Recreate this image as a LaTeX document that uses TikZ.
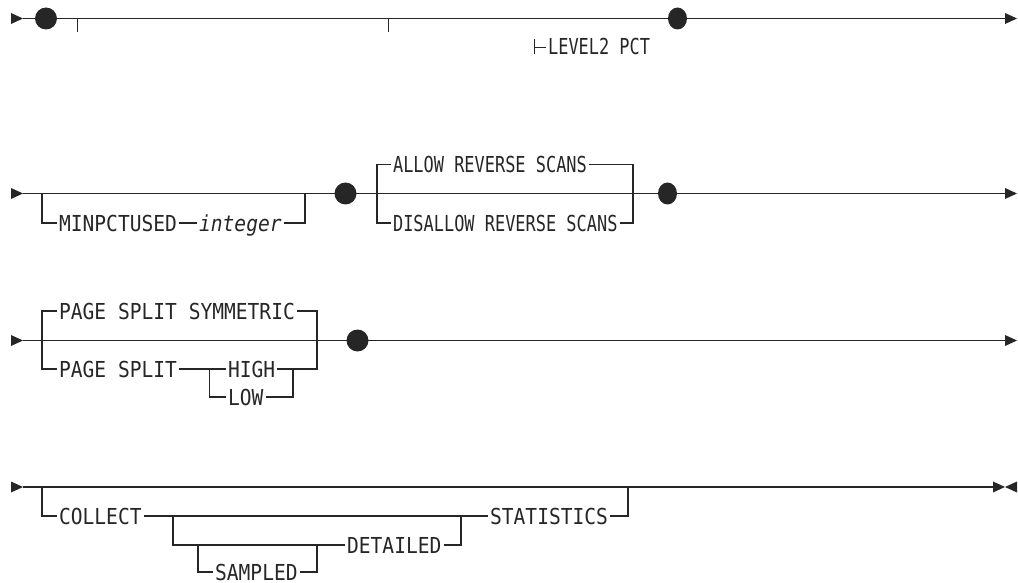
\documentclass[tikz,border=0pt]{standalone}
\usepackage{fontspec}
\usepackage{tikz}
\usetikzlibrary{shapes.geometric}
\newfontfamily\rrwide[FakeStretch=0.89]{DejaVu Sans Mono}
\newfontfamily\rrnarrow[FakeStretch=0.77]{DejaVu Sans Mono}
\colorlet{rrink}{black!85}
\tikzset{
  kw/.style={anchor=west, inner xsep=1.5pt, inner ysep=0pt, text height=16pt, text depth=0pt,
    text=rrink, font=\rrwide\fontsize{22}{26}\selectfont},
  kwn/.style={kw, font=\rrnarrow\fontsize{22}{26}\selectfont},
  dot/.style={ellipse, fill=rrink, inner sep=0pt, minimum width=22pt, minimum height=22pt},
  headtri/.style={fill=rrink, draw=none},
}
\begin{document}
\begin{tikzpicture}[x=1pt, y=-1pt, line width=1.2pt, draw=rrink]
		\useasboundingbox (0,0) rectangle (1018,583);
		% row 1
		\coordinate (r1s) at (23,18.5);
		\coordinate (r1e) at (1005,18.5);
		\coordinate (r1ta) at (77.5,18.5);
		\coordinate (r1tb) at (388.5,18.5);
		\draw (r1s) -- (r1e);
		\fill[headtri] (r1s) -- ++(-12,-5.5) -- ++(0,11) -- cycle;
		\fill[headtri] (r1e) -- ++(0,-5.5) -- ++(12,5.5) -- ++(-12,5.5) -- cycle;
		\draw (r1ta) -- ++(0,14);
		\draw (r1tb) -- ++(0,14);
		\node[kwn] (level) at (546,47) {LEVEL2 PCT};
		\draw[line width=0.9pt] (level.west) -- ++(-12,0) ++(0,-7.5) -- ++(0,15);
		\node[dot] (r1d1) at (46,18.5) {};
		\node[dot, minimum width=19pt] (r1d2) at (677.5,18.5) {};
		% row 2
		\coordinate (r2s) at (23,193.5);
		\coordinate (r2e) at (1005,193.5);
		\coordinate (r2a) at (42,193.5);
		\coordinate (r2b) at (305,193.5);
		\coordinate (r2c) at (377,193.5);
		\coordinate (r2d) at (633,193.5);
		\draw (r2s) -- (r2e);
		\fill[headtri] (r2s) -- ++(-12,-5.5) -- ++(0,11) -- cycle;
		\fill[headtri] (r2e) -- ++(0,-5.5) -- ++(12,5.5) -- ++(-12,5.5) -- cycle;
		\node[kw] (minpct) at (57,223) {MINPCTUSED};
		\node[kw, font=\rrwide\itshape\fontsize{22}{26}\selectfont] (intval) at (197,223) {integer};
		\draw (r2a) |- (minpct.west);
		\draw (minpct) -- (intval);
		\draw (intval.east) -| (r2b);
		\node[kwn] (allow) at (391,164.5) {ALLOW REVERSE SCANS};
		\node[kwn] (disallow) at (391,223) {DISALLOW REVERSE SCANS};
		\draw (allow.west) -| (r2c) |- (disallow.west);
		\draw (allow.east) -| (r2d) |- (disallow.east);
		\node[dot] (r2d1) at (345.5,193.5) {};
		\node[dot, minimum width=19pt] (r2d2) at (667.5,193.5) {};
		% row 3
		\coordinate (r3s) at (23,340.5);
		\coordinate (r3e) at (1005,340.5);
		\coordinate (r3a) at (42,340.5);
		\coordinate (r3b) at (317,340.5);
		\coordinate (r3c) at (209.5,369);
		\coordinate (r3d) at (293,369);
		\draw (r3s) -- (r3e);
		\fill[headtri] (r3s) -- ++(-12,-5.5) -- ++(0,11) -- cycle;
		\fill[headtri] (r3e) -- ++(0,-5.5) -- ++(12,5.5) -- ++(-12,5.5) -- cycle;
		\node[kw] (symm) at (57,311) {PAGE SPLIT SYMMETRIC};
		\node[kw] (split) at (57,369) {PAGE SPLIT};
		\node[kw] (high) at (226,369) {HIGH};
		\node[kw] (low) at (226,397) {LOW};
		\draw (symm.west) -| (r3a) |- (split.west);
		\draw (symm.east) -| (r3b) |- (high.east);
		\draw (split) -- (high);
		\draw (r3c) |- (low.west);
		\draw (low.east) -| (r3d);
		\node[dot] (r3d1) at (357.5,340.5) {};
		% row 4
		\coordinate (r4s) at (23,487);
		\coordinate (r4e) at (993,487);
		\coordinate (r4a) at (42,487);
		\coordinate (r4b) at (628,487);
		\coordinate (r4c) at (173,516);
		\coordinate (r4d) at (461,516);
		\coordinate (r4f) at (198,545);
		\coordinate (r4g) at (317,545);
		\draw (r4s) -- (r4e);
		\fill[headtri] (r4s) -- ++(-12,-5.5) -- ++(0,11) -- cycle;
		\fill[headtri] (r4e) -- ++(0,-5.5) -- ++(12,5.5) -- ++(12,-5.5) -- ++(0,11) -- ++(-12,-5.5) -- ++(-12,5.5) -- cycle;
		\node[kw] (collect) at (57,516) {COLLECT};
		\node[kw] (detailed) at (345,545) {DETAILED};
		\node[kw] (sampled) at (213,572) {SAMPLED};
		\node[kw] (stats) at (488,516) {STATISTICS};
		\draw (r4a) |- (collect.west);
		\draw (collect) -- (stats);
		\draw (r4c) |- (detailed.west);
		\draw (detailed.east) -| (r4d);
		\draw (r4f) |- (sampled.west);
		\draw (sampled.east) -| (r4g);
		\draw (stats.east) -| (r4b);
		\draw[line width=2.2pt] (634,487) -- (658,487);
\end{tikzpicture}
\end{document}
